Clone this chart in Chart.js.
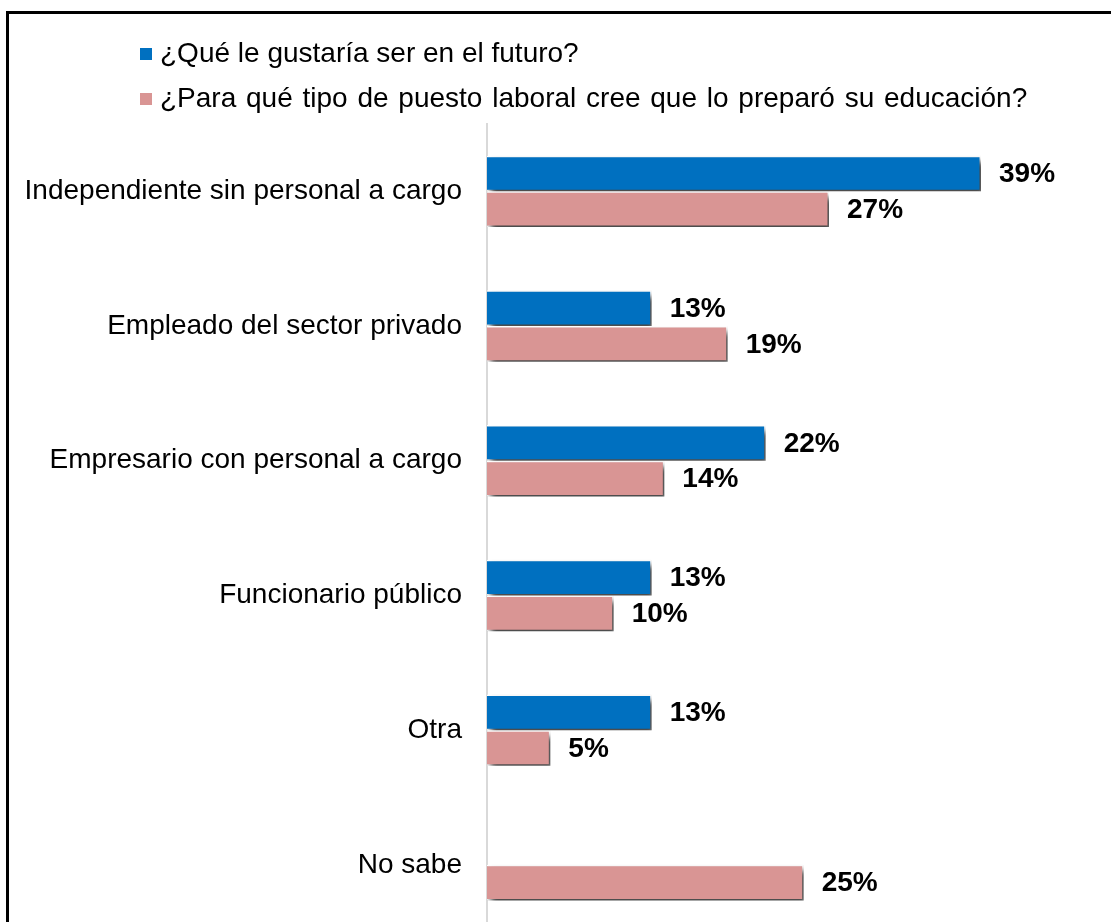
<!DOCTYPE html>
<html>
<head>
<meta charset="utf-8">
<script src="https://cdn.jsdelivr.net/npm/chart.js@4"></script>
<style>
  body { margin: 0; overflow: hidden; background: #fff; font-family: "Liberation Sans", Arial, sans-serif; }
  #frame { position: absolute; left: 6px; top: 11px; width: 1200px; height: 1000px; border-left: 3px solid #000; border-top: 3px solid #000; }
  #c { position: absolute; left: 0; top: 0; }
  #legend { position: absolute; left: 140px; top: 30px; font-size: 28px; color: #000; }
  .item { height: 45px; line-height: 45px; white-space: nowrap; }
  .item + .item { word-spacing: 2px; }
  .box { display: inline-block; width: 12px; height: 12px; margin-right: 8px; vertical-align: 2px; }
</style>
</head>
<body>
<div id="frame"></div>
<canvas id="c" width="1111" height="966"></canvas>
<div id="legend"></div>
<script>
const categories = ["Independiente sin personal a cargo", "Empleado del sector privado", "Empresario con personal a cargo", "Funcionario público", "Otra", "No sabe"];
const seriesNames = ["¿Qué le gustaría ser en el futuro?", "¿Para qué tipo de puesto laboral cree que lo preparó su educación?"];
const futuro = [39, 13, 22, 13, 13, null];
const preparo = [27, 19, 14, 10, 5, 25];
const colors = ["#0070C0", "#D99594"];

const legend = document.getElementById("legend");
seriesNames.forEach((n, i) => {
	var d = document.createElement("div");
	d.className = "item";
	d.innerHTML = '<span class="box" style="background:' + colors[i] + '"></span>' + n;
	legend.appendChild(d);
});

const barExtras = {
	id: "barExtras",
	beforeDatasetsDraw(chart) {
		var ctx = chart.ctx;
		ctx.save();
		ctx.shadowColor = "rgba(0,0,0,0.75)";
		ctx.shadowBlur = 6;
		ctx.shadowOffsetX = 4;
		ctx.shadowOffsetY = 5;
	},
	afterDatasetsDraw(chart) {
		var ctx = chart.ctx;
		ctx.restore();
		ctx.save();
		ctx.font = "bold 28px 'Liberation Sans', Arial, sans-serif";
		ctx.fillStyle = "#000";
		ctx.textBaseline = "middle";
		chart.data.datasets.forEach((ds, i) => {
			var meta = chart.getDatasetMeta(i);
			meta.data.forEach((bar, j) => {
				if (ds.data[j] == null) return;
				ctx.fillText(ds.data[j] + "%", bar.x + 18, bar.y + 1);
			});
		});
		ctx.restore();
	}
};

new Chart(document.getElementById("c"), {
	type: "bar",
	data: {
		labels: categories,
		datasets: [
			{ label: seriesNames[0], data: futuro, backgroundColor: colors[0], borderColor: "#fff", borderWidth: 1.5, categoryPercentage: 0.53, barPercentage: 1 },
			{ label: seriesNames[1], data: preparo, backgroundColor: colors[1], borderColor: "#fff", borderWidth: 1.5, categoryPercentage: 0.53, barPercentage: 1 }
		]
	},
	options: {
		indexAxis: "y",
		responsive: false,
		animation: false,
		layout: { padding: { top: 124, bottom: 5, left: 10, right: 54 } },
		plugins: { legend: { display: false }, tooltip: { enabled: false } },
		scales: {
			x: { display: false, min: 0, max: 45 },
			y: {
				grid: { display: false },
				border: { display: true, color: "#d9d9d9", width: 2 },
				ticks: { color: "#000", padding: 17, font: { family: "'Liberation Sans', Arial, sans-serif", size: 28 } },
				afterFit: s => { s.width = 477; }
			}
		}
	},
	plugins: [barExtras]
});
</script>
</body>
</html>
